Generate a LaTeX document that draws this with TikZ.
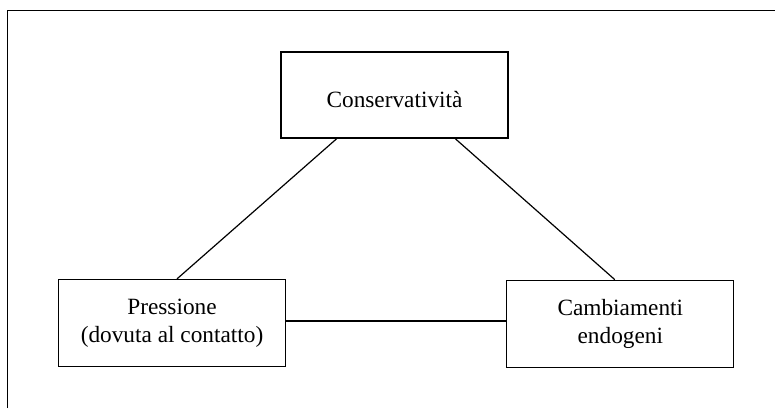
\documentclass[tikz,border=0pt]{standalone}
\usepackage{fontspec}
\setmainfont{Liberation Serif}
\usetikzlibrary{calc}
\begin{document}
\begin{tikzpicture}[x=1pt,y=-1pt,
  box/.style={draw, line width=1.3pt, minimum width=227pt, minimum height=87pt,
    inner sep=0pt, align=center, font=\fontsize{23.3}{27.7}\selectfont,
    execute at begin node={\rule{0pt}{24.8pt}}},
  conn/.style={line width=1.2pt}]
\useasboundingbox (0,0) rectangle (775,408);
\draw[line width=1.3pt] (7.5,408) -- (7.5,10.5) -- (775,10.5);
\node[box, minimum height=86pt] (top) at (394.5,95) {Conservatività};
\node[box] (left) at (172,323) {Pressione\\(dovuta al contatto)};
\node[box] (right) at (620.3,323.8) {Cambiamenti\\endogeni};
\draw[conn] ($(top.south west)!0.247!(top.south east)$) -- ($(left.north west)!0.522!(left.north east)$);
\draw[conn] ($(top.south west)!0.766!(top.south east)$) -- ($(right.north west)!0.476!(right.north east)$);
\draw[conn] ([yshift=2pt]left.east) -- ([yshift=2pt]left.east -| right.west);
\end{tikzpicture}
\end{document}
